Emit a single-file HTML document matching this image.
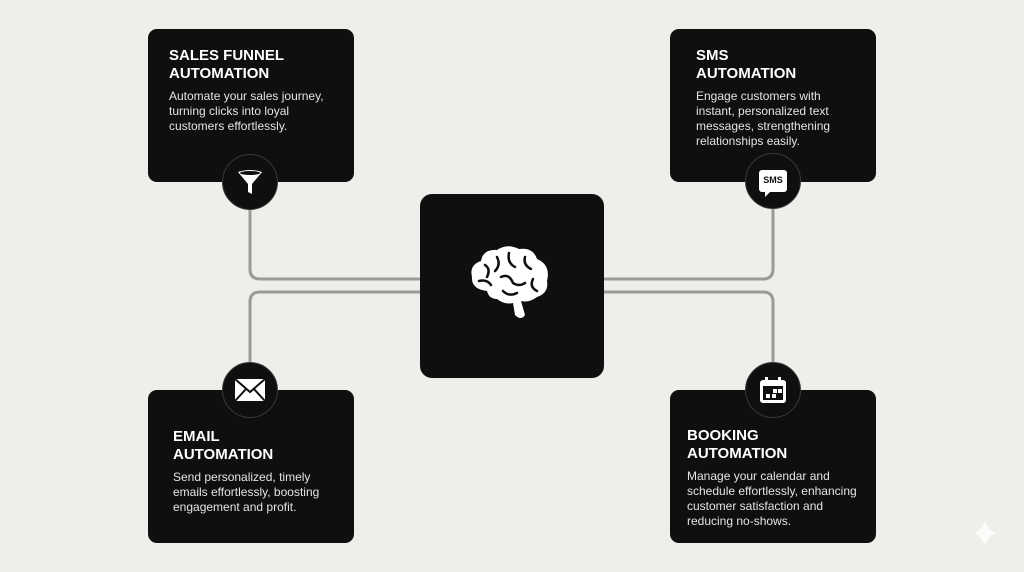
<!DOCTYPE html>
<html><head><style>
body{margin:0;width:1024px;height:572px;background:#efeeeb;position:relative;overflow:hidden;font-family:"Liberation Sans",sans-serif}
.box{position:absolute;width:206px;height:153px;background:#0f0f0f;border-radius:9px;color:#fff;box-sizing:border-box;padding-left:21px}
.t{font-weight:bold;font-size:15px;line-height:18px}
.d{font-size:12px;line-height:15px;color:#e4e4e4;margin-top:6px}
.c{position:absolute;width:56px;height:56px;border-radius:50%;background:#0f0f0f;border:1px solid #3a3a3a;box-sizing:border-box;display:flex;align-items:center;justify-content:center}
</style></head><body>
<svg width="1024" height="572" style="position:absolute;left:0;top:0">
<g fill="none" stroke="#9a9a99" stroke-width="3">
<path d="M250 200 V269 Q250 279 260 279 H420"/>
<path d="M420 292 H260 Q250 292 250 302 V370"/>
<path d="M604 279 H763 Q773 279 773 269 V200"/>
<path d="M604 292 H763 Q773 292 773 302 V370"/>
</g>
<path d="M985 520 Q988 530 996 533 Q988 536 985 546 Q982 536 974 533 Q982 530 985 520Z" fill="#fff" opacity=".8"/>
</svg>
<div class="box" style="left:148px;top:29px;padding-top:18px"><div class="t">SALES FUNNEL<br>AUTOMATION</div><div class="d">Automate your sales journey,<br>turning clicks into loyal<br>customers effortlessly.</div></div>
<div class="box" style="left:670px;top:29px;padding-top:18px;padding-left:26px"><div class="t">SMS<br>AUTOMATION</div><div class="d">Engage customers with<br>instant, personalized text<br>messages, strengthening<br>relationships easily.</div></div>
<div class="box" style="left:148px;top:390px;padding-top:38px;padding-left:25px"><div class="t">EMAIL<br>AUTOMATION</div><div class="d">Send personalized, timely<br>emails effortlessly, boosting<br>engagement and profit.</div></div>
<div class="box" style="left:670px;top:390px;padding-top:37px;padding-left:17px"><div class="t">BOOKING<br>AUTOMATION</div><div class="d">Manage your calendar and<br>schedule effortlessly, enhancing<br>customer satisfaction and<br>reducing no-shows.</div></div>
<div style="position:absolute;left:420px;top:194px;width:184px;height:184px;background:#0f0f0f;border-radius:12px"></div>
<svg width="90" height="80" style="position:absolute;left:467px;top:243px" viewBox="0 0 90 80">
<path d="M20 48 Q4 46 5 34 Q2 22 14 18 Q16 6 30 7 Q40 0 52 6 Q66 4 70 16 Q84 22 80 38 Q82 50 70 54 Q62 60 54 58 L58 72 Q54 78 48 72 L46 60 Q38 62 30 56 Q22 56 20 48Z" fill="#fff"/>
<g fill="none" stroke="#0f0f0f" stroke-width="2.5" stroke-linecap="round">
<path d="M18 22 Q24 26 20 34"/><path d="M30 14 Q34 22 28 28"/><path d="M42 10 Q40 20 48 24"/><path d="M58 14 Q56 22 64 26"/><path d="M12 38 Q20 36 24 42"/><path d="M34 34 Q42 30 46 40 Q52 44 58 40"/><path d="M66 36 Q62 44 70 48"/><path d="M36 48 Q42 54 50 50"/>
</g></svg>
<div class="c" style="left:222px;top:154px"><svg width="28" height="28" viewBox="0 0 28 28"><path d="M2 4 Q14 0 26 4 L16 16 V26 L12 24 V16Z" fill="#fff"/><ellipse cx="14" cy="5" rx="10" ry="2" fill="#0f0f0f"/></svg></div>
<div class="c" style="left:745px;top:153px"><div style="width:28px;height:22px;background:#fff;border-radius:3px;color:#0f0f0f;font-size:9px;font-weight:bold;text-align:center;line-height:21px;position:relative">SMS<div style="position:absolute;left:6px;bottom:-5px;border-left:5px solid #fff;border-bottom:5px solid transparent"></div></div></div>
<div class="c" style="left:222px;top:362px"><svg width="32" height="24" viewBox="0 0 32 24"><rect x="1" y="1" width="30" height="22" fill="#fff"/><path d="M1 1 L16 14 L31 1 M1 23 L12 11 M31 23 L20 11" stroke="#0f0f0f" stroke-width="2" fill="none"/></svg></div>
<div class="c" style="left:745px;top:362px"><svg width="30" height="30" viewBox="0 0 30 30"><rect x="2" y="5" width="26" height="23" rx="3" fill="#fff"/><rect x="5" y="11" width="20" height="14" fill="#0f0f0f"/><rect x="7" y="2" width="3" height="7" fill="#fff"/><rect x="20" y="2" width="3" height="7" fill="#fff"/><rect x="15" y="14" width="4" height="4" fill="#fff"/><rect x="20" y="14" width="4" height="4" fill="#fff"/><rect x="8" y="19" width="4" height="4" fill="#fff"/><rect x="14" y="19" width="4" height="4" fill="#fff"/></svg></div>
</body></html>
